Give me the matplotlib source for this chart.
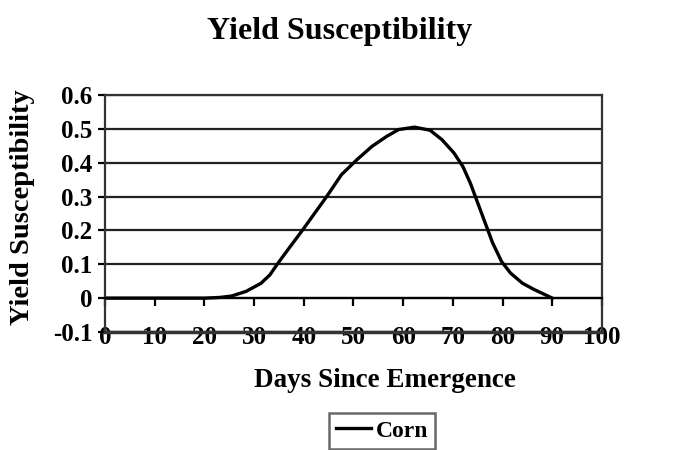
import matplotlib.pyplot as plt

days = [0, 10, 20, 23, 25.4, 28.4, 31.4, 33.2, 34.7, 36.8, 39.8, 42.2, 44.6, 47.6, 50.7, 53.7, 56.7,
        59.1, 62.3, 65.4, 67.8, 70.2, 72, 73.5, 75, 76.5, 78, 79.8, 81.6, 84, 86.4, 88, 90]
corn = [0, 0, 0, 0.002, 0.006, 0.02, 0.044, 0.069, 0.101, 0.143, 0.202, 0.251, 0.3, 0.365, 0.409,
        0.448, 0.478, 0.498, 0.505, 0.496, 0.468, 0.429, 0.389, 0.34, 0.281, 0.222, 0.163, 0.108,
        0.074, 0.044, 0.025, 0.014, 0.0]

plt.rcParams['font.family'] = ['Liberation Serif', 'DejaVu Serif']
plt.rcParams['font.weight'] = 'bold'

fig = plt.figure(figsize=(6.79, 4.5), dpi=100)
ax = fig.add_axes([0.1546, 0.2622, 0.732, 0.5267])

ax.plot(days, corn, color='black', lw=2.4, label='Corn', solid_joinstyle='round')

ax.set_xlim(0, 100)
ax.set_ylim(-0.1, 0.6)
ax.set_yticks([-0.1, 0, 0.1, 0.2, 0.3, 0.4, 0.5, 0.6])
ax.set_yticklabels(['-0.1', '0', '0.1', '0.2', '0.3', '0.4', '0.5', '0.6'])
ax.set_xticks(range(0, 101, 10))
ax.yaxis.grid(True, color='#222222', lw=1.6)
ax.set_axisbelow(True)

for s in ['top', 'right', 'left']:
    ax.spines[s].set_linewidth(1.6)
    ax.spines[s].set_color('#333333')
ax.spines['bottom'].set_position(('data', 0))
ax.spines['bottom'].set_linewidth(1.6)
ax.axhline(-0.1, color='#333333', lw=2.5, clip_on=False)

ax.tick_params(axis='x', direction='out', length=6, width=1.6, pad=14, labelsize=18)
ax.tick_params(axis='y', direction='out', length=5, width=1.6, pad=4, labelsize=18)

fig.text(0.5, 1 - 32 / 450, 'Yield Susceptibility', fontsize=23, fontweight='bold',
         ha='center', va='center')
ax.set_xlabel('Days Since Emergence', fontsize=19.5, fontweight='bold')
ax.set_ylabel('Yield Susceptibility', fontsize=20.5, fontweight='bold')
ax.xaxis.set_label_coords(0.564, -0.15)
ax.yaxis.set_label_coords(-0.14, 0.525)

leg = ax.legend(loc='upper center', bbox_to_anchor=(0.5626, 0.082), bbox_transform=fig.transFigure,
                frameon=True, fancybox=False, edgecolor='#444444', fontsize=17,
                handlelength=1.5, handletextpad=0.2, borderpad=0.3, borderaxespad=0)
leg.get_frame().set_linewidth(1.8)

fig.savefig('out.png', dpi=100)
